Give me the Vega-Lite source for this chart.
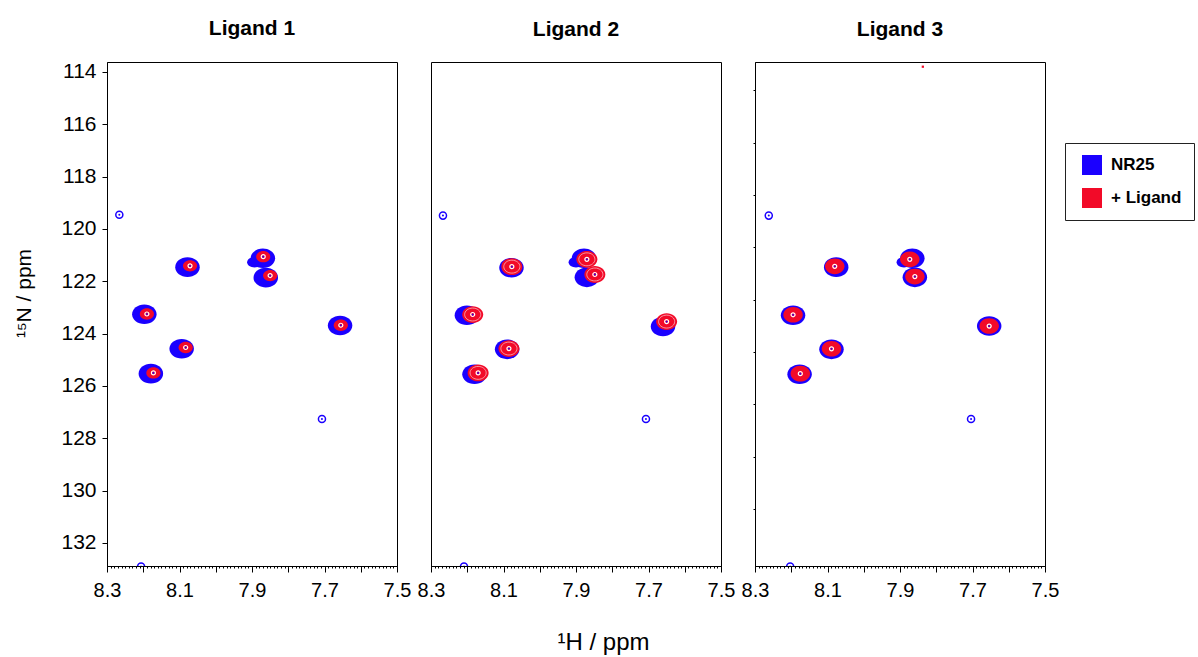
{
  "$schema": "https://vega.github.io/schema/vega-lite/v6.json",
  "padding": {"left": 12, "top": 17, "right": 0, "bottom": 5},
  "background": "white",
  "bounds": "flush",
  "spacing": 34,
  "title": {"text": "¹H / ppm", "orient": "bottom", "anchor": "middle", "fontSize": 24, "fontWeight": "normal", "font": "Liberation Sans", "offset": 30},
  "datasets": {
    "peaks": [
      {"panel": "Ligand 1", "series": "NR25", "type": "peak", "H": 8.078, "N": 121.46},
      {"panel": "Ligand 1", "series": "NR25", "type": "peak", "H": 7.870, "N": 121.12},
      {"panel": "Ligand 1", "series": "NR25", "type": "peak", "H": 7.862, "N": 121.86},
      {"panel": "Ligand 1", "series": "NR25", "type": "peak", "H": 8.197, "N": 123.26},
      {"panel": "Ligand 1", "series": "NR25", "type": "peak", "H": 7.657, "N": 123.69},
      {"panel": "Ligand 1", "series": "NR25", "type": "peak", "H": 8.094, "N": 124.58},
      {"panel": "Ligand 1", "series": "NR25", "type": "peak", "H": 8.179, "N": 125.53},
      {"panel": "Ligand 1", "series": "NR25", "type": "tail", "H": 7.893, "N": 121.27},
      {"panel": "Ligand 1", "series": "NR25", "type": "weak", "H": 8.266, "N": 119.46},
      {"panel": "Ligand 1", "series": "NR25", "type": "weak", "H": 7.707, "N": 127.26},
      {"panel": "Ligand 1", "series": "NR25", "type": "weak", "H": 8.206, "N": 132.9},
      {"panel": "Ligand 1", "series": "+ Ligand", "type": "peak", "H": 8.071, "N": 121.41},
      {"panel": "Ligand 1", "series": "+ Ligand", "type": "peak", "H": 7.869, "N": 121.06},
      {"panel": "Ligand 1", "series": "+ Ligand", "type": "peak", "H": 7.850, "N": 121.78},
      {"panel": "Ligand 1", "series": "+ Ligand", "type": "peak", "H": 8.190, "N": 123.25},
      {"panel": "Ligand 1", "series": "+ Ligand", "type": "peak", "H": 7.655, "N": 123.68},
      {"panel": "Ligand 1", "series": "+ Ligand", "type": "peak", "H": 8.083, "N": 124.53},
      {"panel": "Ligand 1", "series": "+ Ligand", "type": "peak", "H": 8.172, "N": 125.50},

      {"panel": "Ligand 2", "series": "NR25", "type": "peak", "H": 8.078, "N": 121.48},
      {"panel": "Ligand 2", "series": "NR25", "type": "peak", "H": 7.878, "N": 121.12},
      {"panel": "Ligand 2", "series": "NR25", "type": "peak", "H": 7.870, "N": 121.85},
      {"panel": "Ligand 2", "series": "NR25", "type": "peak", "H": 8.201, "N": 123.30},
      {"panel": "Ligand 2", "series": "NR25", "type": "peak", "H": 7.660, "N": 123.73},
      {"panel": "Ligand 2", "series": "NR25", "type": "peak", "H": 8.090, "N": 124.60},
      {"panel": "Ligand 2", "series": "NR25", "type": "peak", "H": 8.180, "N": 125.55},
      {"panel": "Ligand 2", "series": "NR25", "type": "tail", "H": 7.900, "N": 121.27},
      {"panel": "Ligand 2", "series": "NR25", "type": "weak", "H": 8.267, "N": 119.49},
      {"panel": "Ligand 2", "series": "NR25", "type": "weak", "H": 7.707, "N": 127.26},
      {"panel": "Ligand 2", "series": "NR25", "type": "weak", "H": 8.209, "N": 132.9},
      {"panel": "Ligand 2", "series": "+ Ligand", "type": "peak", "H": 8.077, "N": 121.44},
      {"panel": "Ligand 2", "series": "+ Ligand", "type": "peak", "H": 7.870, "N": 121.16},
      {"panel": "Ligand 2", "series": "+ Ligand", "type": "peak", "H": 7.848, "N": 121.74},
      {"panel": "Ligand 2", "series": "+ Ligand", "type": "peak", "H": 8.185, "N": 123.27},
      {"panel": "Ligand 2", "series": "+ Ligand", "type": "peak", "H": 7.650, "N": 123.54},
      {"panel": "Ligand 2", "series": "+ Ligand", "type": "peak", "H": 8.085, "N": 124.57},
      {"panel": "Ligand 2", "series": "+ Ligand", "type": "peak", "H": 8.170, "N": 125.50},

      {"panel": "Ligand 3", "series": "NR25", "type": "peak", "H": 8.076, "N": 121.46},
      {"panel": "Ligand 3", "series": "NR25", "type": "peak", "H": 7.866, "N": 121.12},
      {"panel": "Ligand 3", "series": "NR25", "type": "peak", "H": 7.859, "N": 121.85},
      {"panel": "Ligand 3", "series": "NR25", "type": "peak", "H": 8.195, "N": 123.30},
      {"panel": "Ligand 3", "series": "NR25", "type": "peak", "H": 7.654, "N": 123.71},
      {"panel": "Ligand 3", "series": "NR25", "type": "peak", "H": 8.089, "N": 124.60},
      {"panel": "Ligand 3", "series": "NR25", "type": "peak", "H": 8.177, "N": 125.55},
      {"panel": "Ligand 3", "series": "NR25", "type": "tail", "H": 7.889, "N": 121.27},
      {"panel": "Ligand 3", "series": "NR25", "type": "weak", "H": 8.262, "N": 119.49},
      {"panel": "Ligand 3", "series": "NR25", "type": "weak", "H": 7.704, "N": 127.26},
      {"panel": "Ligand 3", "series": "NR25", "type": "weak", "H": 8.203, "N": 132.9},
      {"panel": "Ligand 3", "series": "+ Ligand", "type": "peak", "H": 8.080, "N": 121.43},
      {"panel": "Ligand 3", "series": "+ Ligand", "type": "peak", "H": 7.873, "N": 121.16},
      {"panel": "Ligand 3", "series": "+ Ligand", "type": "peak", "H": 7.859, "N": 121.82},
      {"panel": "Ligand 3", "series": "+ Ligand", "type": "peak", "H": 8.195, "N": 123.28},
      {"panel": "Ligand 3", "series": "+ Ligand", "type": "peak", "H": 7.654, "N": 123.71},
      {"panel": "Ligand 3", "series": "+ Ligand", "type": "peak", "H": 8.089, "N": 124.58},
      {"panel": "Ligand 3", "series": "+ Ligand", "type": "peak", "H": 8.175, "N": 125.53},
      {"panel": "Ligand 3", "series": "+ Ligand", "type": "dot", "H": 7.837, "N": 113.8}
    ]
  },
  "hconcat": [
    {
      "width": 290, "height": 504,
      "title": "Ligand 1",
      "data": {"name": "peaks"},
      "transform": [{"filter": "datum.panel === 'Ligand 1'"}],
      "resolve": {"axis": {"x": "independent", "y": "independent"}},
      "layer": [
        {
          "transform": [{"filter": "datum.series === 'NR25' && datum.type === 'tail'"}],
          "mark": {"type": "point", "shape": "M-1,0A1,0.7,0,1,1,1,0A1,0.7,0,1,1,-1,0Z", "filled": true, "size": 220, "opacity": 1, "strokeWidth": 0},
          "encoding": {
            "x": {"field": "H", "type": "quantitative", "scale": {"domain": [8.3, 7.5], "nice": false, "zero": false}, "axis": null},
            "y": {"field": "N", "type": "quantitative", "scale": {"domain": [132.88, 113.62], "nice": false, "zero": false}, "axis": null},
            "color": {"value": "#1a00ff"}
          }
        },
        {
          "transform": [{"filter": "datum.series === 'NR25' && datum.type === 'peak'"}],
          "mark": {"type": "point", "shape": "M-1,0A1,0.8,0,1,1,1,0A1,0.8,0,1,1,-1,0Z", "filled": true, "size": 600, "opacity": 1, "strokeWidth": 0},
          "encoding": {
            "x": {"field": "H", "type": "quantitative",
              "axis": {"orient": "bottom", "values": [8.3, 8.1, 7.9, 7.7, 7.5], "format": ".1f", "tickSize": 6, "labelPadding": 8, "labelFontSize": 20, "labelFlush": false, "labelOverlap": false, "title": null, "domain": true, "grid": false}},
            "y": {"field": "N", "type": "quantitative",
              "axis": {"orient": "left", "values": [114, 116, 118, 120, 122, 124, 126, 128, 130, 132], "tickSize": 5, "labelPadding": 6, "labelFontSize": 21, "labelFlush": false, "labelOverlap": false, "title": "¹⁵N / ppm", "titleFontSize": 21, "titleFontWeight": "normal", "titleAngle": -90, "titleX": -83, "titleY": 231, "titleAlign": "center", "titleBaseline": "middle", "grid": false}},
            "color": {"field": "series", "type": "nominal", "scale": {"domain": ["NR25", "+ Ligand"], "range": ["#1a00ff", "#f20a28"]},
              "legend": {"title": null, "orient": "none", "legendX": 958, "legendY": 81, "symbolType": "square", "symbolSize": 400, "symbolStrokeWidth": 0, "symbolOpacity": 1, "labelFontSize": 17, "labelFontWeight": "bold", "labelFont": "Liberation Sans", "labelOffset": 9, "padding": 12, "symbolOffset": 5, "rowPadding": 13, "strokeColor": "#222", "fillColor": "white"}}
          }
        },
        {
          "transform": [{"filter": "datum.series === 'NR25' && datum.type === 'weak'"}],
          "mark": {"type": "point", "shape": "circle", "filled": false, "size": 50, "opacity": 1, "strokeWidth": 1.5, "clip": true},
          "encoding": {
            "x": {"field": "H", "type": "quantitative", "axis": {"orient": "bottom", "values": [8.2, 8.0, 7.8, 7.6], "tickSize": 6, "labels": false, "domain": false, "title": null, "grid": false}},
            "y": {"field": "N", "type": "quantitative", "axis": null},
            "stroke": {"value": "#1a00ff"}
          }
        },
        {
          "transform": [{"filter": "datum.series === 'NR25' && datum.type === 'weak'"}],
          "mark": {"type": "point", "shape": "circle", "filled": true, "size": 4, "opacity": 1, "clip": true},
          "encoding": {
            "x": {"field": "H", "type": "quantitative", "axis": null},
            "y": {"field": "N", "type": "quantitative", "axis": null},
            "color": {"value": "#1a00ff"}
          }
        },
        {
          "transform": [{"filter": "datum.series === '+ Ligand' && datum.type === 'peak'"}],
          "mark": {"type": "point", "shape": "M-1,0A1,0.8,0,1,1,1,0A1,0.8,0,1,1,-1,0Z", "filled": true, "size": 200, "opacity": 1, "strokeWidth": 0},
          "encoding": {
            "x": {"field": "H", "type": "quantitative", "axis": {"orient": "bottom", "values": [7.5,7.51,7.52,7.53,7.54,7.55,7.56,7.57,7.58,7.59,7.6,7.61,7.62,7.63,7.64,7.65,7.66,7.67,7.68,7.69,7.7,7.71,7.72,7.73,7.74,7.75,7.76,7.77,7.78,7.79,7.8,7.81,7.82,7.83,7.84,7.85,7.86,7.87,7.88,7.89,7.9,7.91,7.92,7.93,7.94,7.95,7.96,7.97,7.98,7.99,8.0,8.01,8.02,8.03,8.04,8.05,8.06,8.07,8.08,8.09,8.1,8.11,8.12,8.13,8.14,8.15,8.16,8.17,8.18,8.19,8.2,8.21,8.22,8.23,8.24,8.25,8.26,8.27,8.28,8.29,8.3], "tickSize": 2, "labels": false, "domain": false, "title": null, "grid": false}},
            "y": {"field": "N", "type": "quantitative", "axis": null},
            "color": {"field": "series", "type": "nominal",
              "legend": {"title": null, "orient": "none", "legendX": 958, "legendY": 81, "symbolType": "square", "symbolSize": 400, "symbolStrokeWidth": 0, "symbolOpacity": 1, "labelFontSize": 17, "labelFontWeight": "bold", "labelFont": "Liberation Sans", "labelOffset": 9, "padding": 12, "symbolOffset": 5, "rowPadding": 13, "strokeColor": "#222", "fillColor": "white"}}
          }
        },
        {
          "transform": [{"filter": "datum.series === '+ Ligand' && datum.type === 'peak'"}],
          "mark": {"type": "point", "shape": "circle", "filled": false, "size": 16, "opacity": 1, "strokeWidth": 1.2},
          "encoding": {
            "x": {"field": "H", "type": "quantitative", "axis": null},
            "y": {"field": "N", "type": "quantitative", "axis": null},
            "stroke": {"value": "white"}
          }
        },
        {
          "transform": [{"filter": "datum.series === '+ Ligand' && datum.type === 'peak'"}],
          "mark": {"type": "point", "shape": "circle", "filled": true, "size": 3, "opacity": 1},
          "encoding": {
            "x": {"field": "H", "type": "quantitative", "axis": null},
            "y": {"field": "N", "type": "quantitative", "axis": null},
            "color": {"value": "#1a00ff"}
          }
        }
      ]
    },
    {
      "width": 290, "height": 504,
      "title": "Ligand 2",
      "data": {"name": "peaks"},
      "transform": [{"filter": "datum.panel === 'Ligand 2'"}],
      "resolve": {"axis": {"x": "independent", "y": "independent"}},
      "layer": [
        {
          "transform": [{"filter": "datum.series === 'NR25' && datum.type === 'tail'"}],
          "mark": {"type": "point", "shape": "M-1,0A1,0.7,0,1,1,1,0A1,0.7,0,1,1,-1,0Z", "filled": true, "size": 220, "opacity": 1, "strokeWidth": 0},
          "encoding": {
            "x": {"field": "H", "type": "quantitative", "scale": {"domain": [8.3, 7.5], "nice": false, "zero": false}, "axis": null},
            "y": {"field": "N", "type": "quantitative", "scale": {"domain": [132.88, 113.62], "nice": false, "zero": false}, "axis": null},
            "color": {"value": "#1a00ff"}
          }
        },
        {
          "transform": [{"filter": "datum.series === 'NR25' && datum.type === 'peak'"}],
          "mark": {"type": "point", "shape": "M-1,0A1,0.8,0,1,1,1,0A1,0.8,0,1,1,-1,0Z", "filled": true, "size": 600, "opacity": 1, "strokeWidth": 0},
          "encoding": {
            "x": {"field": "H", "type": "quantitative",
              "axis": {"orient": "bottom", "values": [8.3, 8.1, 7.9, 7.7, 7.5], "format": ".1f", "tickSize": 6, "labelPadding": 8, "labelFontSize": 20, "labelFlush": false, "labelOverlap": false, "title": null, "domain": true, "grid": false}},
            "y": {"field": "N", "type": "quantitative", "axis": null},
            "color": {"field": "series", "type": "nominal",
              "legend": {"title": null, "orient": "none", "legendX": 958, "legendY": 81, "symbolType": "square", "symbolSize": 400, "symbolStrokeWidth": 0, "symbolOpacity": 1, "labelFontSize": 17, "labelFontWeight": "bold", "labelFont": "Liberation Sans", "labelOffset": 9, "padding": 12, "symbolOffset": 5, "rowPadding": 13, "strokeColor": "#222", "fillColor": "white"}}
          }
        },
        {
          "transform": [{"filter": "datum.series === 'NR25' && datum.type === 'weak'"}],
          "mark": {"type": "point", "shape": "circle", "filled": false, "size": 50, "opacity": 1, "strokeWidth": 1.5, "clip": true},
          "encoding": {
            "x": {"field": "H", "type": "quantitative", "axis": {"orient": "bottom", "values": [8.2, 8.0, 7.8, 7.6], "tickSize": 6, "labels": false, "domain": false, "title": null, "grid": false}},
            "y": {"field": "N", "type": "quantitative", "axis": null},
            "stroke": {"value": "#1a00ff"}
          }
        },
        {
          "transform": [{"filter": "datum.series === 'NR25' && datum.type === 'weak'"}],
          "mark": {"type": "point", "shape": "circle", "filled": true, "size": 4, "opacity": 1, "clip": true},
          "encoding": {
            "x": {"field": "H", "type": "quantitative", "axis": null},
            "y": {"field": "N", "type": "quantitative", "axis": null},
            "color": {"value": "#1a00ff"}
          }
        },
        {
          "transform": [{"filter": "datum.series === '+ Ligand' && datum.type === 'peak'"}],
          "mark": {"type": "point", "shape": "M-1,0A1,0.8,0,1,1,1,0A1,0.8,0,1,1,-1,0Z", "filled": true, "size": 440, "opacity": 1, "strokeWidth": 0},
          "encoding": {
            "x": {"field": "H", "type": "quantitative", "axis": {"orient": "bottom", "values": [7.5,7.51,7.52,7.53,7.54,7.55,7.56,7.57,7.58,7.59,7.6,7.61,7.62,7.63,7.64,7.65,7.66,7.67,7.68,7.69,7.7,7.71,7.72,7.73,7.74,7.75,7.76,7.77,7.78,7.79,7.8,7.81,7.82,7.83,7.84,7.85,7.86,7.87,7.88,7.89,7.9,7.91,7.92,7.93,7.94,7.95,7.96,7.97,7.98,7.99,8.0,8.01,8.02,8.03,8.04,8.05,8.06,8.07,8.08,8.09,8.1,8.11,8.12,8.13,8.14,8.15,8.16,8.17,8.18,8.19,8.2,8.21,8.22,8.23,8.24,8.25,8.26,8.27,8.28,8.29,8.3], "tickSize": 2, "labels": false, "domain": false, "title": null, "grid": false}},
            "y": {"field": "N", "type": "quantitative", "axis": null},
            "color": {"field": "series", "type": "nominal",
              "legend": {"title": null, "orient": "none", "legendX": 958, "legendY": 81, "symbolType": "square", "symbolSize": 400, "symbolStrokeWidth": 0, "symbolOpacity": 1, "labelFontSize": 17, "labelFontWeight": "bold", "labelFont": "Liberation Sans", "labelOffset": 9, "padding": 12, "symbolOffset": 5, "rowPadding": 13, "strokeColor": "#222", "fillColor": "white"}}
          }
        },
        {
          "transform": [{"filter": "datum.series === '+ Ligand' && datum.type === 'peak'"}],
          "mark": {"type": "point", "shape": "M-1,0A1,0.8,0,1,1,1,0A1,0.8,0,1,1,-1,0Z", "filled": false, "size": 260, "opacity": 0.7, "strokeWidth": 0.8},
          "encoding": {
            "x": {"field": "H", "type": "quantitative", "axis": null},
            "y": {"field": "N", "type": "quantitative", "axis": null},
            "stroke": {"value": "white"}
          }
        },
        {
          "transform": [{"filter": "datum.series === '+ Ligand' && datum.type === 'peak'"}],
          "mark": {"type": "point", "shape": "circle", "filled": false, "size": 16, "opacity": 1, "strokeWidth": 1.2},
          "encoding": {
            "x": {"field": "H", "type": "quantitative", "axis": null},
            "y": {"field": "N", "type": "quantitative", "axis": null},
            "stroke": {"value": "white"}
          }
        },
        {
          "transform": [{"filter": "datum.series === '+ Ligand' && datum.type === 'peak'"}],
          "mark": {"type": "point", "shape": "circle", "filled": true, "size": 3, "opacity": 1},
          "encoding": {
            "x": {"field": "H", "type": "quantitative", "axis": null},
            "y": {"field": "N", "type": "quantitative", "axis": null},
            "color": {"value": "#1a00ff"}
          }
        }
      ]
    },
    {
      "width": 290, "height": 504,
      "title": "Ligand 3",
      "data": {"name": "peaks"},
      "transform": [{"filter": "datum.panel === 'Ligand 3'"}],
      "resolve": {"axis": {"x": "independent", "y": "independent"}},
      "layer": [
        {
          "transform": [{"filter": "datum.series === 'NR25' && datum.type === 'tail'"}],
          "mark": {"type": "point", "shape": "M-1,0A1,0.7,0,1,1,1,0A1,0.7,0,1,1,-1,0Z", "filled": true, "size": 220, "opacity": 1, "strokeWidth": 0},
          "encoding": {
            "x": {"field": "H", "type": "quantitative", "scale": {"domain": [8.3, 7.5], "nice": false, "zero": false}, "axis": null},
            "y": {"field": "N", "type": "quantitative", "scale": {"domain": [132.88, 113.62], "nice": false, "zero": false}, "axis": null},
            "color": {"value": "#1a00ff"}
          }
        },
        {
          "transform": [{"filter": "datum.series === 'NR25' && datum.type === 'peak'"}],
          "mark": {"type": "point", "shape": "M-1,0A1,0.8,0,1,1,1,0A1,0.8,0,1,1,-1,0Z", "filled": true, "size": 600, "opacity": 1, "strokeWidth": 0},
          "encoding": {
            "x": {"field": "H", "type": "quantitative",
              "axis": {"orient": "bottom", "values": [8.3, 8.1, 7.9, 7.7, 7.5], "format": ".1f", "tickSize": 6, "labelPadding": 8, "labelFontSize": 20, "labelFlush": false, "labelOverlap": false, "title": null, "domain": true, "grid": false}},
            "y": {"field": "N", "type": "quantitative",
              "axis": {"orient": "left", "values": [114.7, 116.7, 118.7, 120.7, 122.7, 124.7, 126.7, 128.7, 130.7], "tickSize": 2, "labels": false, "title": null, "grid": false}},
            "color": {"field": "series", "type": "nominal",
              "legend": {"title": null, "orient": "none", "legendX": 958, "legendY": 81, "symbolType": "square", "symbolSize": 400, "symbolStrokeWidth": 0, "symbolOpacity": 1, "labelFontSize": 17, "labelFontWeight": "bold", "labelFont": "Liberation Sans", "labelOffset": 9, "padding": 12, "symbolOffset": 5, "rowPadding": 13, "strokeColor": "#222", "fillColor": "white"}}
          }
        },
        {
          "transform": [{"filter": "datum.series === 'NR25' && datum.type === 'weak'"}],
          "mark": {"type": "point", "shape": "circle", "filled": false, "size": 50, "opacity": 1, "strokeWidth": 1.5, "clip": true},
          "encoding": {
            "x": {"field": "H", "type": "quantitative", "axis": {"orient": "bottom", "values": [8.2, 8.0, 7.8, 7.6], "tickSize": 6, "labels": false, "domain": false, "title": null, "grid": false}},
            "y": {"field": "N", "type": "quantitative", "axis": null},
            "stroke": {"value": "#1a00ff"}
          }
        },
        {
          "transform": [{"filter": "datum.series === 'NR25' && datum.type === 'weak'"}],
          "mark": {"type": "point", "shape": "circle", "filled": true, "size": 4, "opacity": 1, "clip": true},
          "encoding": {
            "x": {"field": "H", "type": "quantitative", "axis": null},
            "y": {"field": "N", "type": "quantitative", "axis": null},
            "color": {"value": "#1a00ff"}
          }
        },
        {
          "transform": [{"filter": "datum.series === '+ Ligand' && datum.type === 'peak'"}],
          "mark": {"type": "point", "shape": "M-1,0A1,0.8,0,1,1,1,0A1,0.8,0,1,1,-1,0Z", "filled": true, "size": 380, "opacity": 1, "strokeWidth": 0},
          "encoding": {
            "x": {"field": "H", "type": "quantitative", "axis": {"orient": "bottom", "values": [7.5,7.51,7.52,7.53,7.54,7.55,7.56,7.57,7.58,7.59,7.6,7.61,7.62,7.63,7.64,7.65,7.66,7.67,7.68,7.69,7.7,7.71,7.72,7.73,7.74,7.75,7.76,7.77,7.78,7.79,7.8,7.81,7.82,7.83,7.84,7.85,7.86,7.87,7.88,7.89,7.9,7.91,7.92,7.93,7.94,7.95,7.96,7.97,7.98,7.99,8.0,8.01,8.02,8.03,8.04,8.05,8.06,8.07,8.08,8.09,8.1,8.11,8.12,8.13,8.14,8.15,8.16,8.17,8.18,8.19,8.2,8.21,8.22,8.23,8.24,8.25,8.26,8.27,8.28,8.29,8.3], "tickSize": 2, "labels": false, "domain": false, "title": null, "grid": false}},
            "y": {"field": "N", "type": "quantitative", "axis": null},
            "color": {"field": "series", "type": "nominal",
              "legend": {"title": null, "orient": "none", "legendX": 958, "legendY": 81, "symbolType": "square", "symbolSize": 400, "symbolStrokeWidth": 0, "symbolOpacity": 1, "labelFontSize": 17, "labelFontWeight": "bold", "labelFont": "Liberation Sans", "labelOffset": 9, "padding": 12, "symbolOffset": 5, "rowPadding": 13, "strokeColor": "#222", "fillColor": "white"}}
          }
        },
        {
          "transform": [{"filter": "datum.series === '+ Ligand' && datum.type === 'dot'"}],
          "mark": {"type": "point", "shape": "square", "filled": true, "size": 5, "opacity": 1},
          "encoding": {
            "x": {"field": "H", "type": "quantitative", "axis": null},
            "y": {"field": "N", "type": "quantitative", "axis": null},
            "color": {"value": "#f20a28"}
          }
        },
        {
          "transform": [{"filter": "datum.series === '+ Ligand' && datum.type === 'peak'"}],
          "mark": {"type": "point", "shape": "circle", "filled": false, "size": 16, "opacity": 1, "strokeWidth": 1.2},
          "encoding": {
            "x": {"field": "H", "type": "quantitative", "axis": null},
            "y": {"field": "N", "type": "quantitative", "axis": null},
            "stroke": {"value": "white"}
          }
        },
        {
          "transform": [{"filter": "datum.series === '+ Ligand' && datum.type === 'peak'"}],
          "mark": {"type": "point", "shape": "circle", "filled": true, "size": 3, "opacity": 1},
          "encoding": {
            "x": {"field": "H", "type": "quantitative", "axis": null},
            "y": {"field": "N", "type": "quantitative", "axis": null},
            "color": {"value": "#1a00ff"}
          }
        }
      ]
    }
  ],
  "config": {
    "font": "Liberation Sans",
    "view": {"stroke": "black", "strokeWidth": 1},
    "title": {"fontSize": 21, "fontWeight": "bold", "font": "Liberation Sans", "color": "black", "offset": 22},
    "axis": {"domainColor": "black", "tickColor": "black", "labelColor": "black", "titleColor": "black", "labelFont": "Liberation Sans", "titleFont": "Liberation Sans", "domainWidth": 1, "tickWidth": 1}
  }
}
